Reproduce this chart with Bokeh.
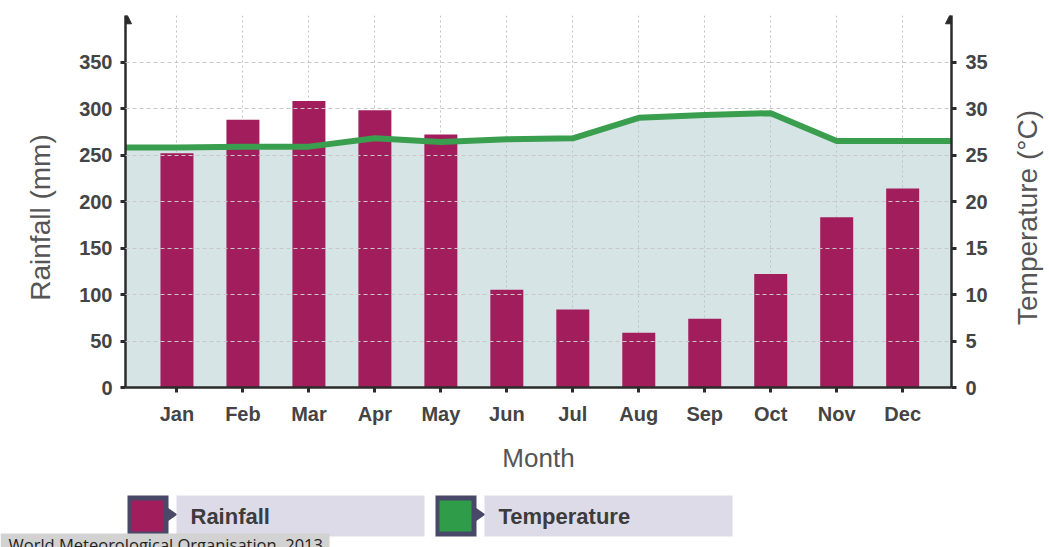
import math
from bokeh.plotting import figure
from bokeh.models import Range1d, LinearAxis, FixedTicker, Arrow, NormalHead
from bokeh.layouts import column, row
from bokeh.embed import file_html
from bokeh.resources import INLINE
from bokeh.core.properties import value

# ---- data ----
months = ["Jan", "Feb", "Mar", "Apr", "May", "Jun", "Jul", "Aug", "Sep", "Oct", "Nov", "Dec"]
rainfall = [252, 288, 308, 298, 272, 105, 84, 59, 74, 122, 183, 214]
temperature = [25.8, 25.9, 25.9, 26.8, 26.4, 26.7, 26.8, 29.0, 29.3, 29.5, 26.5, 26.5]
rain_ticks = [0, 50, 100, 150, 200, 250, 300, 350]
temp_ticks = [0, 5, 10, 15, 20, 25, 30, 35]
legend_labels = ["Rainfall", "Temperature"]
source_text = "World Meteorological Organisation, 2013"
left_title = "Rainfall (mm)"
right_title = "Temperature (°C)"

# ---- styles ----
BAR = "#a21d5c"
LINE = "#3a9e4f"
FILL = "#adc9cc"
AXIS = "#2b2b2b"
FONT = "Liberation Sans"

W = 1049
H1, H2 = 480, 67
WL, WR = 60, 59                    # side strips holding the rotated axis titles
WM = W - WL - WR                   # main figure width (930)
FT, FH = 15, 372                   # frame top and frame height (page pixels)
FB = H1 - FT - FH                  # bottom border (93)
BL = 125 - WL                      # main left border -> frame starts at page x 125
FW = 827
BR = WM - BL - FW                  # main right border

x = list(range(len(months)))
X0, X1 = -0.78, 11.74

p = figure(width=WM, height=H1, x_range=Range1d(X0, X1), y_range=Range1d(0, 400),
           output_backend="svg", toolbar_location=None,
           min_border_left=BL, min_border_right=BR, min_border_top=FT, min_border_bottom=FB)
p.outline_line_color = None
p.extra_y_ranges = {"temp": Range1d(0, 40)}

# area under the temperature line, extended to both axes
xs_ext = [X0] + x + [X1]
ts_ext = [temperature[0]] + temperature + [temperature[-1]]
p.varea(x=xs_ext, y1=0, y2=ts_ext, y_range_name="temp", fill_color=FILL, fill_alpha=0.5)

p.vbar(x=x, top=rainfall, width=0.5, bottom=0, fill_color=BAR, line_color=None)
p.line(x=xs_ext, y=ts_ext, y_range_name="temp", line_color=LINE, line_width=6)

# axes
p.xaxis.ticker = FixedTicker(ticks=x)
p.xaxis.major_label_overrides = {i: m for i, m in enumerate(months)}
p.xaxis.axis_label = "Month"
p.yaxis.ticker = FixedTicker(ticks=rain_ticks)

right = LinearAxis(y_range_name="temp", ticker=FixedTicker(ticks=temp_ticks))
p.add_layout(right, "right")

for ax in p.axis:
    ax.axis_line_width = 2.5
    ax.axis_line_color = AXIS
    ax.major_tick_line_color = AXIS
    ax.major_tick_line_width = 3
    ax.major_tick_out = 5
    ax.major_tick_in = 0
    ax.minor_tick_line_color = None
    ax.major_label_text_font = FONT
    ax.major_label_text_font_style = "bold"
    ax.major_label_text_font_size = "20px"
    ax.major_label_text_color = "#444444"
    ax.axis_label_text_font = FONT
    ax.axis_label_text_font_style = "normal"
    ax.axis_label_text_font_size = "26px"
    ax.axis_label_text_color = "#555555"

p.xaxis.major_label_standoff = 10
p.xaxis.axis_label_standoff = 15
p.yaxis[0].major_label_standoff = 8
right.major_label_standoff = 9

# grids
p.xgrid.grid_line_color = "#c0c0c0"
p.xgrid.grid_line_dash = "2 3"
p.ygrid.ticker = FixedTicker(ticks=rain_ticks[1:] + [400])
p.ygrid.grid_line_color = "#c8c8c8"
p.ygrid.grid_line_dash = "4 3"
p.ygrid.level = "overlay"

# arrow heads on the vertical axes
p.add_layout(Arrow(end=NormalHead(size=12, fill_color=AXIS, line_color=AXIS),
                   x_start=X0, y_start=395, x_end=X0, y_end=404, line_alpha=0))
p.add_layout(Arrow(end=NormalHead(size=12, fill_color=AXIS, line_color=AXIS),
                   x_start=X1, y_start=39.5, x_end=X1, y_end=40.4, line_alpha=0,
                   y_range_name="temp"))


def strip(width, x_start, height, top_border, bottom_border, y_top, y_bottom):
    """Blank figure whose data coordinates equal page pixels."""
    f = figure(width=width, height=height, x_range=Range1d(x_start, x_start + width),
               y_range=Range1d(y_bottom, y_top), output_backend="svg", toolbar_location=None,
               min_border_left=0, min_border_right=0,
               min_border_top=top_border, min_border_bottom=bottom_border,
               x_axis_type=None, y_axis_type=None)
    f.outline_line_color = None
    f.grid.visible = False
    return f


# rotated axis titles (read bottom-to-top)
pl = strip(WL, 0, H1, FT, FB, FT, FT + FH)
pl.text(x=[40], y=[217], text=[left_title], angle=math.pi / 2, text_align="center",
        text_baseline="middle", text_font=value(FONT), text_font_size="28px",
        text_color="#555555")
pr = strip(WR, W - WR, H1, FT, FB, FT, FT + FH)
pr.text(x=[1027], y=[217], text=[right_title], angle=math.pi / 2, text_align="center",
        text_baseline="middle", text_font=value(FONT), text_font_size="28px",
        text_color="#555555")

# ---- legend strip ----
p2 = strip(W, 0, H2, 0, 0, H1, H1 + H2)

legend_colors = [BAR, "#2e9c48"]
item_x = [127, 435]
for lbl, col, x0 in zip(legend_labels, legend_colors, item_x):
    p2.quad(left=x0, right=x0 + 41, top=495, bottom=536, fill_color="#4a4868", line_color=None)
    p2.quad(left=x0 + 4, right=x0 + 36, top=500, bottom=531, fill_color=col, line_color=None)
    p2.patch(x=[x0 + 40, x0 + 50, x0 + 40], y=[507, 514, 521], fill_color="#4a4868", line_color=None)
    p2.quad(left=x0 + 49, right=x0 + 297, top=495, bottom=536, fill_color="#dcdbe7", line_color=None)
    p2.text(x=[x0 + 63], y=[516], text=[lbl], text_baseline="middle", text_align="left",
            text_font=value(FONT), text_font_style="bold", text_font_size="22px",
            text_color="#3c3c3c")

p2.quad(left=0, right=329, top=533, bottom=547, fill_color="#d2d2d2", line_color=None)
p2.text(x=[8], y=[532], text=[source_text], text_baseline="top", text_align="left",
        text_font=value("Open Sans"), text_font_size="16.5px", text_color="#222222")

layout = column(row(pl, p, pr, spacing=0), p2, spacing=0)
open("out.html", "w").write(file_html(layout, INLINE))
